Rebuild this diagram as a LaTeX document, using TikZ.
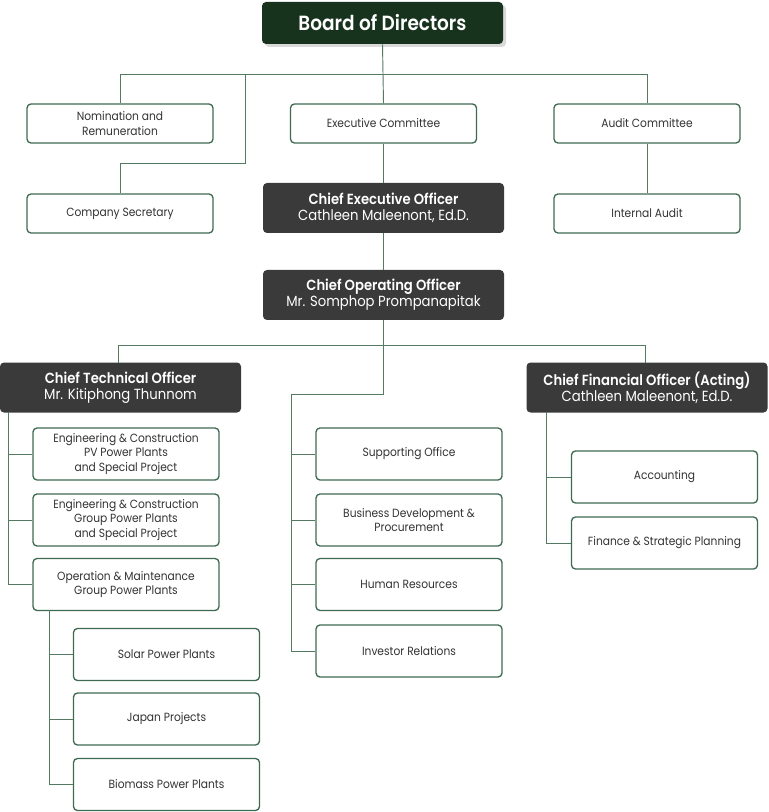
\documentclass[tikz,border=0pt]{standalone}
\usepackage{fontspec}
\setmainfont{Poppins}[FakeStretch=0.9, BoldFont={Poppins SemiBold}]
\definecolor{bdgreen}{HTML}{17331D}
\definecolor{darkbox}{HTML}{3A3A3A}
\definecolor{lgreen}{HTML}{3F6A52}
\definecolor{conn}{HTML}{557A62}
\definecolor{txt}{HTML}{333333}
\begin{document}
\begin{tikzpicture}[x=0.75pt,y=-0.75pt,
  wbox/.style={draw=lgreen, line width=1pt, rounded corners=3pt, fill=white, text=txt,
    minimum width=139.5pt, inner sep=0pt, align=center, font=\fontsize{8.9}{10.6}\selectfont},
  tall/.style={minimum height=39pt},
  short/.style={minimum height=29.25pt},
  dbox/.style={fill=darkbox, rounded corners=3pt, text=white, minimum width=180.75pt,
    minimum height=37.5pt, inner sep=0pt, align=center, font=\fontsize{11}{12.2}\selectfont},
  conn/.style={draw=conn, line width=0.7pt}
]
\useasboundingbox (0,0) rectangle (768,812);
% board
\fill[black!15, rounded corners=3pt] (265,5) rectangle (506,47);
\node[fill=bdgreen, rounded corners=3pt, text=white, minimum width=180.75pt, minimum height=31.5pt,
  inner sep=0pt, font=\fontsize{15.4}{17}\selectfont\bfseries] (board) at (382.5,23) {Board of Directors};
\node[wbox,short] (nom) at (120,123.5) {Nomination and\\Remuneration};
\node[wbox,short] (exc) at (383.5,123.5) {Executive Committee};
\node[wbox,short] (aud) at (647,123.5) {Audit Committee};
\node[wbox,short] (sec) at (120,213.5) {Company Secretary};
\node[wbox,short] (ia) at (647,213.5) {Internal Audit};
\node[dbox] (ceo) at (383.5,208) {\textbf{Chief Executive Officer}\\Cathleen Maleenont, Ed.D.};
\node[dbox] (coo) at (383.5,295) {\textbf{Chief Operating Officer}\\Mr. Somphop Prompanapitak};
\node[dbox] (cto) at (120.5,387.5) {\textbf{Chief Technical Officer}\\Mr. Kitiphong Thunnom};
\node[dbox] (cfo) at (647,387.5) {\textbf{Chief Financial Officer (Acting)}\\Cathleen Maleenont, Ed.D.};
\node[wbox,tall] (ecpv) at (126,454) {Engineering \& Construction\\PV Power Plants\\and Special Project};
\node[wbox,tall] (ecgr) at (126,520) {Engineering \& Construction\\Group Power Plants\\and Special Project};
\node[wbox,tall] (om) at (126,584.5) {Operation \& Maintenance\\Group Power Plants};
\node[wbox,tall] (sol) at (166.5,654.5) {Solar Power Plants};
\node[wbox,tall] (jp) at (166.5,719) {Japan Projects};
\node[wbox,tall] (bio) at (166.5,784.5) {Biomass Power Plants};
\node[wbox,tall] (sup) at (409,454) {Supporting Office};
\node[wbox,tall] (biz) at (409,520) {Business Development \&\\Procurement};
\node[wbox,tall] (hr) at (409,584.5) {Human Resources};
\node[wbox,tall] (ir) at (409,651) {Investor Relations};
\node[wbox,tall] (acc) at (664.5,477) {Accounting};
\node[wbox,tall] (fin) at (664.5,543) {Finance \& Strategic Planning};
% coordinates
\coordinate (bus1) at (383.5,74);
\coordinate (secA) at (245,74);
\coordinate (secB) at (245,163);
\coordinate (bus2) at (383.5,345);
\coordinate (midA) at (383.5,394);
\coordinate (midB) at (291,394);
\coordinate (ctoL) at (8,412);
\coordinate (omL) at (49,610);
\coordinate (cfoL) at (546,412);
% connectors
\draw[conn] (board.south) -- (exc.north);
\draw[conn] (nom.north) -- (nom.north |- bus1) -- (aud.north |- bus1) -- (aud.north);
\draw[conn] (secA) -- (secB) -- (sec.north |- secB) -- (sec.north);
\draw[conn] (exc.south) -- (ceo.north);
\draw[conn] (aud.south) -- (ia.north);
\draw[conn] (ceo.south) -- (coo.north);
\draw[conn] (coo.south) -- (midA) -- (midB) -- (midB |- ir.west) -- (ir.west);
\draw[conn] (118,363) -- (118,345) -- (645,345) -- (645,363);
\draw[conn] (midB |- sup.west) -- (sup.west);
\draw[conn] (midB |- biz.west) -- (biz.west);
\draw[conn] (midB |- hr.west) -- (hr.west);
\draw[conn] (ctoL) -- (ctoL |- om.west) -- (om.west);
\draw[conn] (ctoL |- ecpv.west) -- (ecpv.west);
\draw[conn] (ctoL |- ecgr.west) -- (ecgr.west);
\draw[conn] (omL) -- (omL |- bio.west) -- (bio.west);
\draw[conn] (omL |- sol.west) -- (sol.west);
\draw[conn] (omL |- jp.west) -- (jp.west);
\draw[conn] (cfoL) -- (cfoL |- fin.west) -- (fin.west);
\draw[conn] (cfoL |- acc.west) -- (acc.west);
\end{tikzpicture}
\end{document}
